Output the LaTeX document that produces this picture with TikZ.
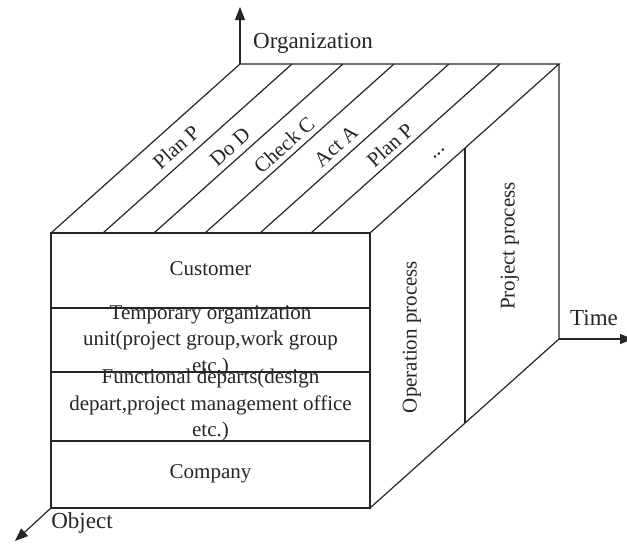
\documentclass[tikz,border=0pt]{standalone}
\usepackage{fontspec}
\setmainfont{Liberation Serif}
\usetikzlibrary{arrows.meta}
\definecolor{ink}{rgb}{0.15,0.15,0.15}
\begin{document}
\begin{tikzpicture}[x=1pt,y=-1pt,
  edge/.style={draw=ink,line width=1.2pt},
  axisarrow/.style={draw=ink,line width=1.2pt,-{Triangle[length=13pt,width=10pt]}},
  boxtext/.style={text=ink,font=\fontsize{21}{26.5}\selectfont,align=center,inner sep=0pt},
  axistext/.style={text=ink,font=\fontsize{23}{27}\selectfont,inner sep=0pt},
  striptext/.style={text=ink,font=\fontsize{21}{25}\selectfont,inner sep=0pt,rotate=41.8}]
\clip (0,0) rectangle (627,544);
\fill[white] (0,0) rectangle (627,544);
% corners
\coordinate (A) at (51,233);
\coordinate (B) at (370,233);
\coordinate (C) at (370,508);
\coordinate (D) at (51,508);
\coordinate (E) at (240,64);
\coordinate (F) at (559,64);
\coordinate (G) at (559,339);
\coordinate (M) at (465,148);
\coordinate (N) at (465,423);
% front face
\draw[edge] (A) -- (B) -- (C) -- (D) -- cycle;
\coordinate (L1) at (51,308); \coordinate (R1) at (370,308);
\coordinate (L2) at (51,372); \coordinate (R2) at (370,372);
\coordinate (L3) at (51,441); \coordinate (R3) at (370,441);
\draw[edge] (L1) -- (R1);
\draw[edge] (L2) -- (R2);
\draw[edge] (L3) -- (R3);
% top and side faces
\draw[edge] (A) -- (E) -- (F) -- (B);
\draw[edge] (F) -- (G) -- (C);
\draw[edge] (M) -- (N);
% strips on top
\foreach \x [count=\i] in {103,154,205,260,311}{
  \coordinate (s\i) at (\x,233);
  \coordinate (t\i) at (\x+189,64);
  \draw[edge] (s\i) -- (t\i);
}
% axes
\coordinate (Otip) at (240,7);
\coordinate (Ttip) at (633,339);
\coordinate (Btip) at (15,541);
\draw[axisarrow] (E) -- (Otip);
\draw[axisarrow] (G) -- (Ttip);
\draw[axisarrow] (D) -- (Btip);
\node[axistext] (org) at (313,43) {Organization};
\node[axistext] (time) at (594,318) {Time};
\node[axistext] (obj) at (82,523) {Object};
% front labels
\node[boxtext] (cust) at (210.5,269) {Customer};
\node[boxtext] (temp) at (210.5,341) {Temporary organization\\unit(project group,work group\\etc.)};
\node[boxtext] (func) at (210.5,405) {Functional departs(design\\depart,project management office\\etc.)};
\node[boxtext] (comp) at (210.5,474) {Company};
% side labels
\node[boxtext,rotate=90] (op) at (412,337) {Operation process};
\node[boxtext,rotate=90] (pp) at (510,246) {Project process};
% top labels
\node[striptext] (p1) at (176,147) {Plan P};
\node[striptext] (p2) at (230,147) {Do D};
\node[striptext] (p3) at (284,145) {Check C};
\node[striptext] (p4) at (336,146) {Act A};
\node[striptext] (p5) at (390,145) {Plan P};
\node[striptext] (p6) at (439,154) {...};
\end{tikzpicture}
\end{document}
